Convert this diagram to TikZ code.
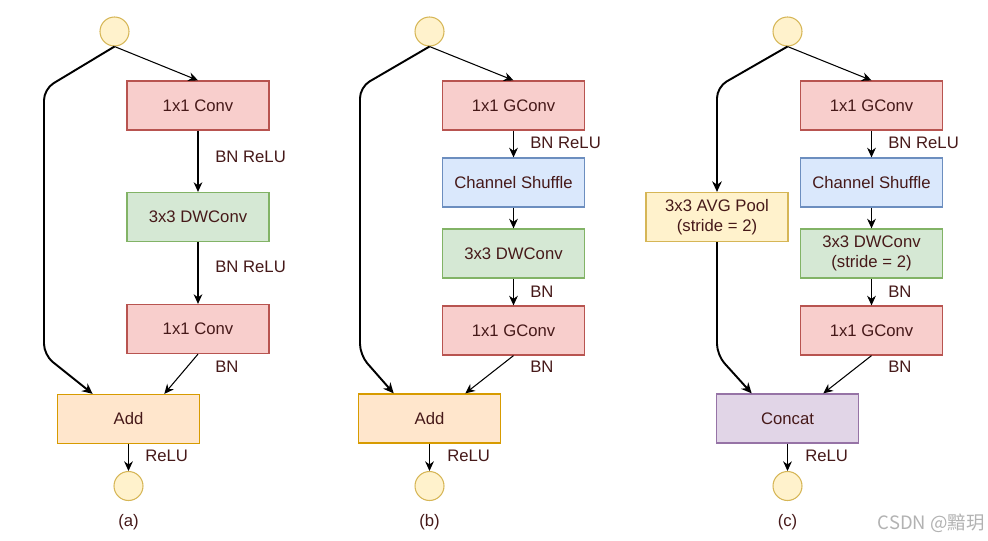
\documentclass[tikz,border=0pt]{standalone}
\usepackage{fontspec}
\setmainfont{Liberation Sans}
\newfontfamily\cjkfont{Noto Sans CJK SC}
\usetikzlibrary{arrows.meta,calc}

\definecolor{txtred}{RGB}{70,25,25}
\definecolor{redfill}{HTML}{F8CECC}
\definecolor{redline}{HTML}{B85450}
\definecolor{grnfill}{HTML}{D5E8D4}
\definecolor{grnline}{HTML}{82B366}
\definecolor{blufill}{HTML}{DAE8FC}
\definecolor{bluline}{HTML}{6C8EBF}
\definecolor{orgfill}{HTML}{FFE6CC}
\definecolor{orgline}{HTML}{D79B00}
\definecolor{yelfill}{HTML}{FFF2CC}
\definecolor{yelline}{HTML}{D6B656}
\definecolor{purfill}{HTML}{E1D5E7}
\definecolor{purline}{HTML}{9673A6}

\begin{document}
\begin{tikzpicture}[x=0.02cm,y=-0.02cm,
        font=\fontsize{9.5}{11.5}\selectfont,
        blk/.style={draw,line width=0.7pt,text=txtred,align=center,
            minimum width=2.84cm,minimum height=0.98cm,inner sep=1pt},
        redblk/.style={blk,fill=redfill,draw=redline},
        grnblk/.style={blk,fill=grnfill,draw=grnline},
        blublk/.style={blk,fill=blufill,draw=bluline},
        orgblk/.style={blk,fill=orgfill,draw=orgline},
        yelblk/.style={blk,fill=yelfill,draw=yelline},
        purblk/.style={blk,fill=purfill,draw=purline},
        io/.style={circle,draw=yelline,fill=yelfill,line width=0.6pt,
            minimum size=0.58cm,inner sep=0pt},
        lbl/.style={text=txtred,anchor=west,inner sep=0pt},
        subcap/.style={text=txtred,inner sep=0pt},
        arr/.style={line width=0.6pt,-{Stealth[length=5.5pt,width=5pt]}},
        skip/.style={line width=1.1pt,rounded corners=0.22cm,
            -{Stealth[length=6pt,width=5.5pt]}}]
    \useasboundingbox (0,0) rectangle (988,541);

    % (a)
    \node[io] (ina) at (114.5,31.5) {};
    \node[redblk] (conva) at (198,105.5) {1x1 Conv};
    \node[grnblk] (dwa) at (198,217) {3x3 DWConv};
    \node[redblk] (pwa) at (198,329) {1x1 Conv};
    \node[orgblk] (adda) at (128.5,419) {Add};
    \node[io] (outa) at (128.5,486) {};
    \node[lbl] (la1) at (215,157) {BN ReLU};
    \node[lbl] (la2) at (215,267) {BN ReLU};
    \node[lbl] (la3) at (215,367) {BN};
    \node[lbl] (la4) at (145,456) {ReLU};
    \node[subcap] (capa) at (128.5,522) {(a)};
    \draw[arr] (ina.south) -- (conva.north);
    \draw[arr] (conva) -- (dwa);
    \draw[arr] (dwa) -- (pwa);
    \draw[arr] (pwa.south) -- ($(adda.north west)!0.75!(adda.north east)$);
    \draw[skip] (ina.south) -- (44,89) -- (44,355) -- ($(adda.north west)!0.25!(adda.north east)$);
    \draw[arr] (adda) -- (outa);

    % (b)
    \node[io] (inb) at (429.5,31.5) {};
    \node[redblk] (gc1b) at (513.5,105.5) {1x1 GConv};
    \node[blublk] (shb) at (513.5,182.5) {Channel Shuffle};
    \node[grnblk] (dwb) at (513.5,253.5) {3x3 DWConv};
    \node[redblk] (gc2b) at (513.5,330.5) {1x1 GConv};
    \node[orgblk] (addb) at (429.5,418.5) {Add};
    \node[io] (outb) at (429.5,486) {};
    \node[lbl] (lb1) at (530,143) {BN ReLU};
    \node[lbl] (lb2) at (530,292) {BN};
    \node[lbl] (lb3) at (530,367) {BN};
    \node[lbl] (lb4) at (447,456) {ReLU};
    \node[subcap] (capb) at (429.5,522) {(b)};
    \draw[arr] (inb.south) -- (gc1b.north);
    \draw[arr] (gc1b) -- (shb);
    \draw[arr] (shb) -- (dwb);
    \draw[arr] (dwb) -- (gc2b);
    \draw[arr] (gc2b.south) -- ($(addb.north west)!0.75!(addb.north east)$);
    \draw[skip] (inb.south) -- (360,87) -- (360,355) -- ($(addb.north west)!0.25!(addb.north east)$);
    \draw[arr] (addb) -- (outb);

    % (c)
    \node[io] (inc) at (787.5,31.5) {};
    \node[redblk] (gc1c) at (871.5,105.5) {1x1 GConv};
    \node[blublk] (shc) at (871.5,182.5) {Channel Shuffle};
    \node[grnblk] (dwc) at (871.5,253.5) {3x3 DWConv\\(stride = 2)};
    \node[redblk] (gc2c) at (871.5,330.5) {1x1 GConv};
    \node[yelblk] (avgc) at (717,217) {3x3 AVG Pool\\(stride = 2)};
    \node[purblk] (catc) at (787.5,418.5) {Concat};
    \node[io] (outc) at (787.5,486) {};
    \node[lbl] (lc1) at (888,143) {BN ReLU};
    \node[lbl] (lc2) at (888,292) {BN};
    \node[lbl] (lc3) at (888,367) {BN};
    \node[lbl] (lc4) at (805,456) {ReLU};
    \node[subcap] (capc) at (787.5,522) {(c)};
    \draw[arr] (inc.south) -- (gc1c.north);
    \draw[arr] (gc1c) -- (shc);
    \draw[arr] (shc) -- (dwc);
    \draw[arr] (dwc) -- (gc2c);
    \draw[arr] (gc2c.south) -- ($(catc.north west)!0.75!(catc.north east)$);
    \draw[skip] (inc.south) -- (717,87) -- (avgc.north);
    \draw[skip] (avgc.south) -- (717,355) -- ($(catc.north west)!0.25!(catc.north east)$);
    \draw[arr] (catc) -- (outc);

    \node[text=black!30,anchor=east,inner sep=0pt] (mark) at (985,523)
        {\cjkfont\fontsize{10.5}{12}\selectfont CSDN @黯玥};
\end{tikzpicture}
\end{document}
